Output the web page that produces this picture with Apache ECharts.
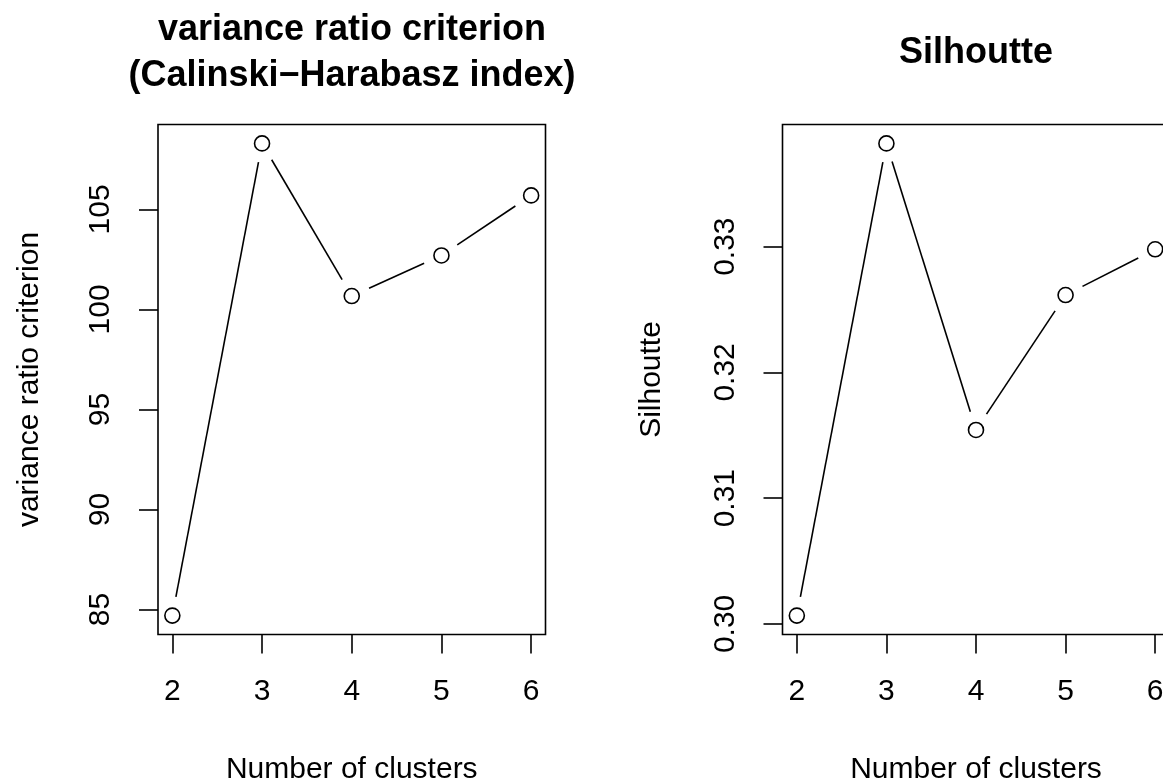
<!DOCTYPE html>
<html>
<head>
<meta charset="utf-8">
<script src="https://cdn.jsdelivr.net/npm/echarts@6/dist/echarts.min.js"></script>
<style>
html,body{margin:0;padding:0;background:#fff;}
#chart{width:1163px;height:784px;}
</style>
</head>
<body>
<div id="chart"></div>
<script>
// ---- data ----
var clusters = [2, 3, 4, 5, 6];
var vrcValues = [84.7, 108.3, 100.67, 102.7, 105.7];
var silValues = [0.30066, 0.33821, 0.31542, 0.32615, 0.32979];
var xTicks = [2, 3, 4, 5, 6];
var vrcTicks = [85, 90, 95, 100, 105];
var silTicks = [0.30, 0.31, 0.32, 0.33];
var leftTitle = ['variance ratio criterion', '(Calinski\u2212Harabasz index)'];
var rightTitle = 'Silhoutte';
var xName = 'Number of clusters';
var leftYName = 'variance ratio criterion';
var rightYName = 'Silhoutte';

// ---- helpers ----
var FONT = '"Liberation Sans", Arial, Helvetica, sans-serif';
function padRange(vals) {
  var mn = Math.min.apply(null, vals), mx = Math.max.apply(null, vals);
  var p = (mx - mn) * 0.04;
  return [mn - p, mx + p];
}
function segments(xs, ys) {
  var out = [];
  for (var i = 0; i < xs.length - 1; i++) out.push([xs[i], ys[i], xs[i + 1], ys[i + 1]]);
  return out;
}
function points(xs, ys) {
  return xs.map(function (x, i) { return [x, ys[i]]; });
}
var GAP = 19;
function renderSeg(params, api) {
  var p1 = api.coord([api.value(0), api.value(1)]);
  var p2 = api.coord([api.value(2), api.value(3)]);
  var dx = p2[0] - p1[0], dy = p2[1] - p1[1];
  var len = Math.sqrt(dx * dx + dy * dy);
  if (len <= 2 * GAP) return null;
  var ux = dx / len, uy = dy / len;
  return {
    type: 'line',
    shape: { x1: p1[0] + ux * GAP, y1: p1[1] + uy * GAP, x2: p2[0] - ux * GAP, y2: p2[1] - uy * GAP },
    style: { stroke: '#000', lineWidth: 1.6 }
  };
}
var xRange = padRange(clusters);
var vrcRange = padRange(vrcValues);
var silRange = padRange(silValues);

function xAxisCfg(idx) {
  return {
    gridIndex: idx, type: 'value', min: xRange[0], max: xRange[1],
    name: xName, nameLocation: 'middle', nameGap: 120,
    nameTextStyle: { fontFamily: FONT, fontSize: 30, color: '#000' },
    axisLine: { show: false },
    axisTick: { show: true, length: 19, inside: false, customValues: xTicks, lineStyle: { color: '#000', width: 1.6 } },
    axisLabel: { customValues: xTicks, margin: 42, fontFamily: FONT, fontSize: 30, color: '#000', hideOverlap: false },
    splitLine: { show: false }
  };
}
function yAxisCfg(idx, range, ticks, name, gap, fmt) {
  return {
    gridIndex: idx, type: 'value', min: range[0], max: range[1],
    name: name, nameLocation: 'middle', nameGap: gap,
    nameTextStyle: { fontFamily: FONT, fontSize: 30, color: '#000' },
    axisLine: { show: false },
    axisTick: { show: true, length: 19, inside: false, customValues: ticks, lineStyle: { color: '#000', width: 1.6 } },
    axisLabel: { customValues: ticks, rotate: 90, margin: 42, fontFamily: FONT, fontSize: 30, color: '#000', formatter: fmt },
    splitLine: { show: false }
  };
}

var chart = echarts.init(document.getElementById('chart'), null, { renderer: 'canvas' });
chart.setOption({
  animation: false,
  backgroundColor: '#fff',
  grid: [
    { left: 158, top: 124.5, width: 387.5, height: 510, show: true, borderColor: '#000', borderWidth: 1.6, backgroundColor: 'transparent', containLabel: false, outerBoundsMode: 'none' },
    { left: 782.5, top: 124.5, width: 387, height: 510, show: true, borderColor: '#000', borderWidth: 1.6, backgroundColor: 'transparent', containLabel: false, outerBoundsMode: 'none' }
  ],
  xAxis: [xAxisCfg(0), xAxisCfg(1)],
  yAxis: [
    yAxisCfg(0, vrcRange, vrcTicks, leftYName, 113, function (v) { return String(Math.round(v)); }),
    yAxisCfg(1, silRange, silTicks, rightYName, 116, function (v) { return v.toFixed(2); })
  ],
  graphic: [
    { type: 'text', x: 352, y: 30, style: { text: leftTitle[0], fontFamily: FONT, fontSize: 36, fontWeight: 'bold', fill: '#000', textAlign: 'center', textVerticalAlign: 'middle' } },
    { type: 'text', x: 352, y: 76, style: { text: leftTitle[1], fontFamily: FONT, fontSize: 36, fontWeight: 'bold', fill: '#000', textAlign: 'center', textVerticalAlign: 'middle' } },
    { type: 'text', x: 976, y: 53, style: { text: rightTitle, fontFamily: FONT, fontSize: 36, fontWeight: 'bold', fill: '#000', textAlign: 'center', textVerticalAlign: 'middle' } }
  ],
  series: [
    { type: 'custom', xAxisIndex: 0, yAxisIndex: 0, renderItem: renderSeg, data: segments(clusters, vrcValues), encode: { x: [0, 2], y: [1, 3] }, silent: true },
    { type: 'scatter', xAxisIndex: 0, yAxisIndex: 0, data: points(clusters, vrcValues), symbol: 'circle', symbolSize: 15, itemStyle: { color: '#fff', borderColor: '#000', borderWidth: 1.6, opacity: 1 }, z: 5 },
    { type: 'custom', xAxisIndex: 1, yAxisIndex: 1, renderItem: renderSeg, data: segments(clusters, silValues), encode: { x: [0, 2], y: [1, 3] }, silent: true },
    { type: 'scatter', xAxisIndex: 1, yAxisIndex: 1, data: points(clusters, silValues), symbol: 'circle', symbolSize: 15, itemStyle: { color: '#fff', borderColor: '#000', borderWidth: 1.6, opacity: 1 }, z: 5 }
  ]
});
</script>
</body>
</html>
